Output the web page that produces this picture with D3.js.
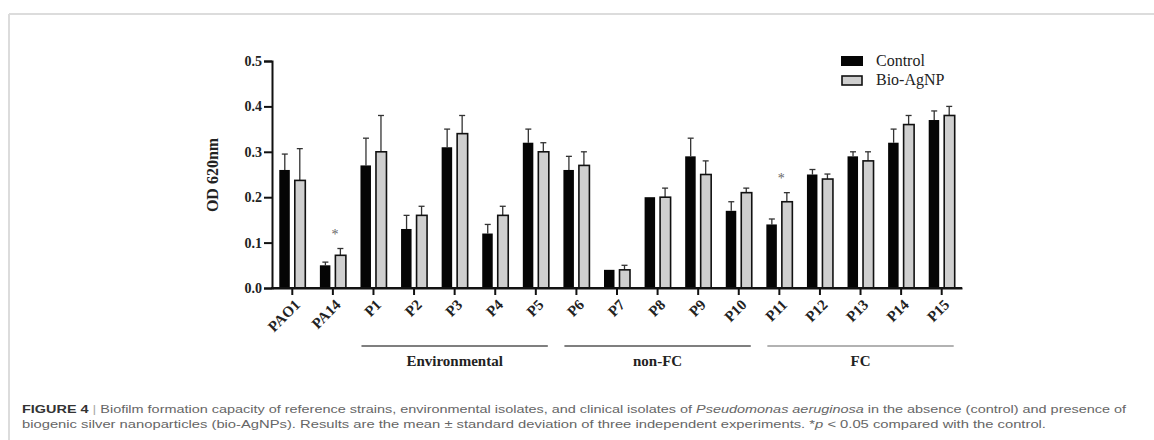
<!DOCTYPE html>
<html>
<head>
<meta charset="utf-8">
<script src="https://cdn.jsdelivr.net/npm/d3@7"></script>
<style>
  html, body { margin: 0; padding: 0; background: #fff; }
  svg { display: block; }
</style>
</head>
<body>
<svg id="chart" width="1154" height="440"></svg>
<script>
const categories = ["PAO1","PA14","P1","P2","P3","P4","P5","P6","P7","P8","P9","P10","P11","P12","P13","P14","P15"];
const controlValues = [0.26,0.05,0.27,0.13,0.31,0.12,0.32,0.26,0.04,0.20,0.29,0.17,0.14,0.25,0.29,0.32,0.37];
const controlErrors = [0.035,0.007,0.06,0.03,0.04,0.02,0.03,0.03,0.0,0.0,0.04,0.02,0.012,0.011,0.01,0.03,0.02];
const agnpValues = [0.237,0.072,0.30,0.16,0.34,0.16,0.30,0.27,0.04,0.20,0.25,0.21,0.19,0.24,0.28,0.36,0.38];
const agnpErrors = [0.07,0.015,0.08,0.02,0.04,0.02,0.02,0.03,0.01,0.02,0.03,0.01,0.02,0.011,0.02,0.02,0.02];
const yTicks = [0.0,0.1,0.2,0.3,0.4,0.5];
const significant = ["PA14","P11"];
const groups = [
  {label: "Environmental", from: "P1", to: "P5", color: "#555"},
  {label: "non-FC", from: "P6", to: "P10", color: "#555"},
  {label: "FC", from: "P11", to: "P15", color: "#999"}
];
const seriesNames = ["Control", "Bio-AgNP"];
const captionLine1 = "Biofilm formation capacity of reference strains, environmental isolates, and clinical isolates of ";
const captionItalic = "Pseudomonas aeruginosa";
const captionLine1b = " in the absence (control) and presence of";
const captionLine2 = "biogenic silver nanoparticles (bio-AgNPs). Results are the mean \u00b1 standard deviation of three independent experiments. *";
const captionLine2b = " < 0.05 compared with the control.";

const svg = d3.select("#chart");
const serif = "'Liberation Serif', 'DejaVu Serif', serif";

// frame
svg.append("line").attr("x1", 9).attr("x2", 1154).attr("y1", 14).attr("y2", 14)
  .attr("stroke", "#dcdcdc").attr("stroke-width", 2);
svg.append("line").attr("x1", 9).attr("x2", 9).attr("y1", 14).attr("y2", 440)
  .attr("stroke", "#dcdcdc").attr("stroke-width", 2);

const x = d3.scaleBand().domain(categories).range([272, 962]).padding(0);
const y = d3.scaleLinear().domain([0, 0.5]).range([288, 61]);
const cx = c => x(c) + x.bandwidth() / 2;

// y axis
const yAxis = d3.axisLeft(y).tickValues(yTicks).tickFormat(d3.format(".1f")).tickSize(8).tickPadding(2);
const gy = svg.append("g").attr("transform", "translate(272,0)").call(yAxis);
gy.select(".domain").attr("stroke", "#111").attr("stroke-width", 2);
gy.selectAll(".tick line").attr("stroke", "#111").attr("stroke-width", 2);
gy.selectAll(".tick text").attr("font-family", serif).attr("font-weight", "bold")
  .attr("font-size", 14).attr("fill", "#222");

// x axis
const xAxis = d3.axisBottom(x).tickSize(7).tickSizeOuter(0).tickFormat("");
const gx = svg.append("g").attr("transform", "translate(0,288)").call(xAxis);
gx.select(".domain").attr("stroke", "#111").attr("stroke-width", 2);
gx.selectAll(".tick line").attr("stroke", "#111").attr("stroke-width", 2);

// x labels rotated
svg.append("g").selectAll("text").data(categories).join("text")
  .attr("transform", d => `translate(${cx(d) + 5},${302}) rotate(-45)`)
  .attr("text-anchor", "end").attr("dy", "0.35em")
  .attr("font-family", serif).attr("font-weight", "bold").attr("font-size", 15).attr("fill", "#222")
  .text(d => d);

// y label
svg.append("text").attr("transform", "translate(218,175) rotate(-90)")
  .attr("text-anchor", "middle").attr("font-family", serif).attr("font-weight", "bold")
  .attr("font-size", 16).attr("fill", "#222").text("OD 620nm");

const barW = 10.5;
const data = categories.map((c, i) => ({c, cv: controlValues[i], ce: controlErrors[i], av: agnpValues[i], ae: agnpErrors[i]}));

function errBar(g, xc, v, e, color) {
  if (e <= 0) return;
  g.append("line").attr("x1", xc).attr("x2", xc).attr("y1", y(v)).attr("y2", y(v + e))
    .attr("stroke", color).attr("stroke-width", 1.3);
  g.append("line").attr("x1", xc - 3).attr("x2", xc + 3).attr("y1", y(v + e)).attr("y2", y(v + e))
    .attr("stroke", color).attr("stroke-width", 1.3);
}
const eg = svg.append("g");
data.forEach(d => {
  errBar(eg, cx(d.c) - 7.5, d.cv, d.ce, "#333");
  errBar(eg, cx(d.c) + 7.5, d.av, d.ae, "#333");
});

// bars
svg.append("g").selectAll("rect").data(data).join("rect")
  .attr("x", d => cx(d.c) - 13).attr("width", barW)
  .attr("y", d => y(d.cv)).attr("height", d => y(0) - y(d.cv))
  .attr("fill", "#050505");
svg.append("g").selectAll("rect").data(data).join("rect")
  .attr("x", d => cx(d.c) + 2.5).attr("width", barW)
  .attr("y", d => y(d.av)).attr("height", d => y(0) - y(d.av))
  .attr("fill", "#cfcfcf").attr("stroke", "#111").attr("stroke-width", 1.6);

// significance stars
svg.append("g").selectAll("text").data(significant).join("text")
  .attr("x", d => cx(d) + 2)
  .attr("y", d => { const i = categories.indexOf(d); return y(agnpValues[i] + agnpErrors[i]) - 10; })
  .attr("text-anchor", "middle").attr("font-family", serif).attr("font-size", 14).attr("fill", "#666")
  .text("*");

// redraw axis line on top
svg.append("line").attr("x1", 271).attr("x2", 962).attr("y1", 288).attr("y2", 288)
  .attr("stroke", "#111").attr("stroke-width", 2);

// group lines
const gg = svg.append("g");
groups.forEach(g => {
  const x1 = cx(g.from) - 12, x2 = cx(g.to) + 12;
  gg.append("line").attr("x1", x1).attr("x2", x2).attr("y1", 346).attr("y2", 346)
    .attr("stroke", g.color).attr("stroke-width", 1.3);
  gg.append("text").attr("x", (x1 + x2) / 2).attr("y", 366).attr("text-anchor", "middle")
    .attr("font-family", serif).attr("font-weight", "bold").attr("font-size", 15).attr("fill", "#222")
    .text(g.label);
});

// legend
const lg = svg.append("g");
lg.append("rect").attr("x", 841).attr("y", 56).attr("width", 22).attr("height", 10).attr("fill", "#050505");
lg.append("rect").attr("x", 842).attr("y", 76).attr("width", 20).attr("height", 9)
  .attr("fill", "#cfcfcf").attr("stroke", "#111").attr("stroke-width", 1.6);
lg.selectAll("text").data(seriesNames).join("text")
  .attr("x", 876).attr("y", (d, i) => 66 + i * 19)
  .attr("font-family", serif).attr("font-size", 16).attr("fill", "#222").text(d => d);

// caption
const cap = svg.append("g").attr("font-family", "'Liberation Sans', Arial, sans-serif").attr("font-size", 11.5);
const t1 = cap.append("text").attr("x", 22).attr("y", 413).attr("fill", "#666")
  .attr("textLength", 1104).attr("lengthAdjust", "spacingAndGlyphs");
t1.append("tspan").attr("font-weight", "bold").attr("fill", "#333").text("FIGURE 4");
t1.append("tspan").attr("fill", "#aaa").text(" | ");
t1.append("tspan").text(captionLine1);
t1.append("tspan").attr("font-style", "italic").text(captionItalic);
t1.append("tspan").text(captionLine1b);
const t2 = cap.append("text").attr("x", 22).attr("y", 428).attr("fill", "#666")
  .attr("textLength", 1024).attr("lengthAdjust", "spacingAndGlyphs");
t2.append("tspan").text(captionLine2);
t2.append("tspan").attr("font-style", "italic").text("p");
t2.append("tspan").text(captionLine2b);
</script>
</body>
</html>
